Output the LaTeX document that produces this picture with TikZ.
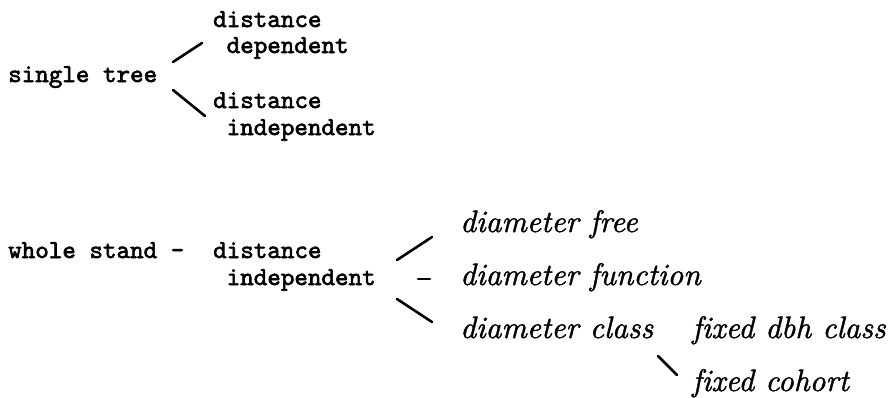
\documentclass[tikz,border=0pt]{standalone}
\usepackage{fontspec}
\newfontfamily\typewriter{lmmono10-regular.otf}[FakeBold=2.2]
\newfontfamily\handwrite{lmroman10-italic.otf}[FakeBold=1.2, Ligatures=CommonOff]
\tikzset{
  tw/.style={inner sep=0pt, anchor=base west,
    font=\typewriter\fontsize{25.8}{30}\selectfont},
  hand/.style={inner sep=0pt, anchor=base west,
    font=\handwrite\fontsize{31}{36}\selectfont},
  link/.style={line width=2.6pt, line cap=round}
}
\begin{document}
\begin{tikzpicture}[x=1pt,y=-1pt]
\useasboundingbox (0,0) rectangle (893,397);

% single tree branch
\node[tw] (st)  at (8,82)    {single tree};
\node[tw] (dd1) at (213,27)  {distance};
\node[tw] (dd2) at (226.5,53){dependent};
\node[tw] (di1) at (213,108) {distance};
\node[tw] (di2) at (226.5,135){independent};
\coordinate (a1) at (173,62);  \coordinate (a2) at (202,43);
\coordinate (b1) at (173,90);  \coordinate (b2) at (205,116);
\draw[link] (a1) -- (a2);
\draw[link] (b1) -- (b2);

% whole stand branch
\node[tw] (ws)  at (8,258)   {whole stand -};
\node[tw] (wi1) at (213,258) {distance};
\node[tw] (wi2) at (226.5,285){independent};

\node[hand] (df) at (460,232) {diameter free};
\node[hand] (dn) at (460,285) {diameter function};
\node[hand] (dc) at (460,338) {diameter class};
\node[hand] (fd) at (692,338) {fixed dbh class};
\node[hand] (fc) at (692,391) {fixed cohort};

\coordinate (c1) at (397,260); \coordinate (c2) at (432,237);
\coordinate (m1) at (418,279); \coordinate (m2) at (430,279);
\coordinate (e1) at (397,299); \coordinate (e2) at (432,322);
\coordinate (g1) at (658,356); \coordinate (g2) at (677,375);
\draw[link] (c1) -- (c2);
\draw[link] (m1) -- (m2);
\draw[link] (e1) -- (e2);
\draw[link] (g1) -- (g2);
\end{tikzpicture}
\end{document}
